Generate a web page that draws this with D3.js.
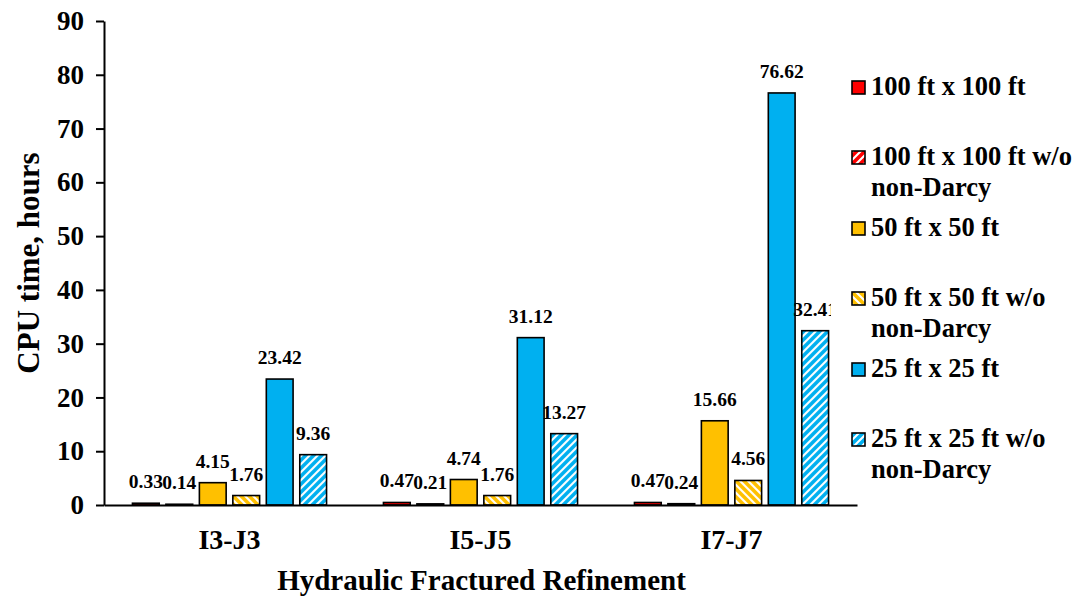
<!DOCTYPE html>
<html>
<head>
<meta charset="utf-8">
<script src="https://cdn.jsdelivr.net/npm/d3@7"></script>
<style>
  html, body { margin: 0; padding: 0; background: #fff; }
  svg { display: block; font-family: "Liberation Serif", "Times New Roman", serif; font-weight: bold; }
</style>
</head>
<body>
<svg id="chart" width="1078" height="599"></svg>
<script>
// Grid refinement cases (x categories)
const categories = ["I3-J3", "I5-J5", "I7-J7"];

// Series names, as shown in the legend
const seriesNames = [
  "100 ft x 100 ft",
  "100 ft x 100 ft w/o non-Darcy",
  "50 ft x 50 ft",
  "50 ft x 50 ft w/o non-Darcy",
  "25 ft x 25 ft",
  "25 ft x 25 ft w/o non-Darcy"
];

// CPU time in hours, one array per series, ordered by category
const grid100 = [0.33, 0.47, 0.47];
const grid100NoND = [0.14, 0.21, 0.24];
const grid50 = [4.15, 4.74, 15.66];
const grid50NoND = [1.76, 1.76, 4.56];
const grid25 = [23.42, 31.12, 76.62];
const grid25NoND = [9.36, 13.27, 32.41];

const yTicks = [0, 10, 20, 30, 40, 50, 60, 70, 80, 90];

const seriesValues = [grid100, grid100NoND, grid50, grid50NoND, grid25, grid25NoND];

const svg = d3.select("#chart");
const margin = { left: 104, right: 221, top: 21, bottom: 94 };
const W = 1078, H = 599;
const plotRight = W - margin.right;
const plotBottom = H - margin.bottom;

// Fill styles: solid colour or diagonal hatch
const colors = ["#FF0000", "#FF0000", "#FFC000", "#FFC000", "#00B0F0", "#00B0F0"];
const hatch = [null, "fwd", null, "back", null, "fwd"];

const defs = svg.append("defs");
seriesNames.forEach((name, i) => {
  if (!hatch[i]) return;
  const size = 8;
  const p = defs.append("pattern")
    .attr("id", "hatch" + i)
    .attr("patternUnits", "userSpaceOnUse")
    .attr("width", size).attr("height", size);
  p.append("rect").attr("width", size).attr("height", size).attr("fill", "#fff");
  const path = hatch[i] === "fwd"
    ? `M0,${size} L${size},0 M${-size / 2},${size / 2} L${size / 2},${-size / 2} M${size / 2},${size * 1.5} L${size * 1.5},${size / 2}`
    : `M0,0 L${size},${size} M${-size / 2},${size / 2} L${size / 2},${size * 1.5} M${size / 2},${-size / 2} L${size * 1.5},${size / 2}`;
  p.append("path").attr("d", path)
    .attr("stroke", colors[i]).attr("stroke-width", 3.6);
});
const fillOf = i => hatch[i] ? `url(#hatch${i})` : colors[i];

const x0 = d3.scaleBand().domain(categories)
  .range([margin.left, plotRight]).paddingInner(0.2).paddingOuter(0.1);
const x1 = d3.scaleBand().domain(d3.range(seriesNames.length))
  .range([0, x0.bandwidth()]).paddingInner(0.2).paddingOuter(0.1);
const y = d3.scaleLinear().domain([0, 90]).range([plotBottom, margin.top]);

// Clip for the value labels (plot area)
defs.append("clipPath").attr("id", "plotClip")
  .append("rect").attr("x", 0).attr("y", 0).attr("width", 831).attr("height", H);

// Bars
const groups = svg.append("g").selectAll("g")
  .data(categories).join("g")
  .attr("transform", c => `translate(${x0(c)},0)`);

groups.selectAll("rect")
  .data((c, ci) => seriesValues.map((vals, si) => ({ si, v: vals[ci] })))
  .join("rect")
  .attr("x", d => x1(d.si))
  .attr("y", d => y(d.v))
  .attr("width", x1.bandwidth())
  .attr("height", d => y(0) - y(d.v))
  .attr("fill", d => fillOf(d.si))
  .attr("stroke", "#000")
  .attr("stroke-width", 1.6);

// Value labels
const labels = svg.append("g").attr("clip-path", "url(#plotClip)");
categories.forEach((c, ci) => {
  seriesValues.forEach((vals, si) => {
    labels.append("text")
      .attr("x", x0(c) + x1(si) + x1.bandwidth() / 2)
      .attr("y", y(vals[ci]) - 15)
      .attr("text-anchor", "middle")
      .attr("font-size", 19.5)
      .text(vals[ci].toFixed(2));
  });
});

// Y axis
const yAxis = svg.append("g")
  .attr("transform", `translate(${margin.left},0)`)
  .call(d3.axisLeft(y).tickValues(yTicks).tickSize(8).tickSizeOuter(0).tickPadding(12));
yAxis.select(".domain").attr("stroke", "#000").attr("stroke-width", 2);
yAxis.selectAll(".tick line").attr("stroke", "#000").attr("stroke-width", 2);
yAxis.selectAll(".tick text")
  .attr("font-family", "Liberation Serif, serif")
  .attr("font-weight", "bold").attr("font-size", 27).attr("fill", "#000");

// X axis
const xAxis = svg.append("g")
  .attr("transform", `translate(0,${plotBottom})`)
  .call(d3.axisBottom(x0).tickSize(0).tickSizeOuter(0));
xAxis.select(".domain").attr("stroke", "#000").attr("stroke-width", 2);
xAxis.selectAll(".tick text")
  .attr("font-family", "Liberation Serif, serif")
  .attr("font-weight", "bold").attr("font-size", 28).attr("fill", "#000")
  .attr("dy", null).attr("y", 44);

// Axis titles
svg.append("text")
  .attr("x", (margin.left + plotRight) / 2 + 1)
  .attr("y", 590)
  .attr("text-anchor", "middle")
  .attr("font-size", 29)
  .text("Hydraulic Fractured Refinement");

svg.append("text")
  .attr("transform", "translate(39,263) rotate(-90)")
  .attr("text-anchor", "middle")
  .attr("font-size", 31)
  .text("CPU time, hours");

// Legend
const legendRows = [
  { lines: ["100 ft x 100 ft"], base: 95 },
  { lines: ["100 ft x 100 ft w/o", "non-Darcy"], base: 165 },
  { lines: ["50 ft x 50 ft"], base: 236 },
  { lines: ["50 ft x 50 ft w/o", "non-Darcy"], base: 306 },
  { lines: ["25 ft x 25 ft"], base: 377 },
  { lines: ["25 ft x 25 ft w/o", "non-Darcy"], base: 447 }
];
const legend = svg.append("g");
legendRows.forEach((r, i) => {
  legend.append("rect")
    .attr("x", 852).attr("y", r.base - 14)
    .attr("width", 13).attr("height", 13)
    .attr("fill", fillOf(i))
    .attr("stroke", "#000").attr("stroke-width", 1.6);
  r.lines.forEach((t, li) => {
    legend.append("text")
      .attr("x", 871).attr("y", r.base + li * 31)
      .attr("font-size", 26.5)
      .text(t);
  });
});
</script>
</body>
</html>
